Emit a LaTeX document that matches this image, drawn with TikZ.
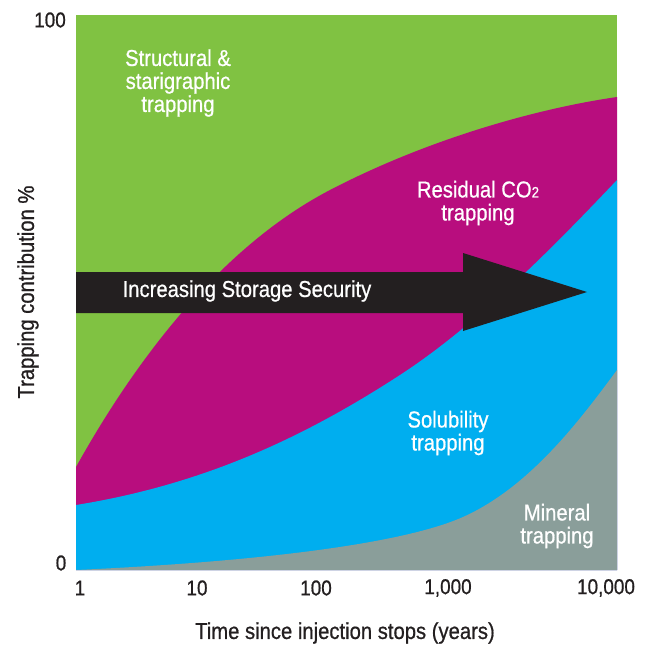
\documentclass[tikz,border=0pt]{standalone}
\usepackage{fontspec}
\setmainfont{Liberation Sans}[FakeStretch=0.88, FakeBold=0.7]
\definecolor{structgreen}{HTML}{80C242}
\definecolor{residmagenta}{HTML}{B80D7E}
\definecolor{solblue}{HTML}{00AEEF}
\definecolor{mingray}{HTML}{8A9E9A}
\definecolor{darkink}{HTML}{231F20}
\tikzset{
  zonelabel/.style={text=white, align=center, inner sep=0pt, font=\fontsize{23}{23}\selectfont},
  axislabel/.style={text=darkink, inner sep=0pt, font=\fontsize{23}{23}\selectfont},
  ticklabel/.style={text=darkink, inner sep=0pt, font=\fontsize{21.5}{21.5}\selectfont}
}

\begin{document}
\begin{tikzpicture}[x=1pt, y=-1pt]
        \useasboundingbox (0, 0) rectangle (656, 648);
        \fill[structgreen] (76, 15) rectangle (617, 570);
        \fill[residmagenta] (76, 570) -- (76, 467) .. controls (130, 370) and (215, 250) .. (330, 190)
            .. controls (430, 138) and (540, 108) .. (617, 97) -- (617, 570) -- cycle;
        \fill[solblue] (76, 570) -- (76, 505) .. controls (200, 485) and (300, 440) .. (400, 375)
            .. controls (480, 323) and (560, 240) .. (617, 180) -- (617, 570) -- cycle;
        \fill[mingray] (76, 570) .. controls (250, 562) and (400, 545) .. (463, 517)
            .. controls (530, 487) and (580, 420) .. (617, 370) -- (617, 570) -- cycle;
        \fill[darkink] (76, 272) -- (463, 272) -- (463, 253) -- (587, 292) -- (463, 331)
            -- (463, 313) -- (76, 313) -- cycle;
        \node[zonelabel] (structural) at (178, 83) {Structural \&\\starigraphic\\trapping};
        \node[zonelabel] (residual) at (478, 203) {Residual CO{\fontsize{15}{15}\selectfont 2}\\trapping};
        \node[zonelabel] (security) at (247, 291) {Increasing Storage Security};
        \node[zonelabel] (solubility) at (448, 433) {Solubility\\trapping};
        \node[zonelabel] (mineral) at (557, 526) {Mineral\\trapping};
        \node[ticklabel] (ymax) at (50, 20) {100};
        \node[ticklabel] (ymin) at (61, 563) {0};
        \node[ticklabel] (x1) at (80, 588) {1};
        \node[ticklabel] (x10) at (197, 588) {10};
        \node[ticklabel] (x100) at (316, 588) {100};
        \node[ticklabel] (x1000) at (448, 588) {1,000};
        \node[ticklabel] (x10000) at (606, 588) {10,000};
        \node[axislabel] (xtitle) at (345, 633) {Time since injection stops (years)};
        \node[axislabel, rotate=90] (ytitle) at (28, 292) {Trapping contribution \%};
    \end{tikzpicture}
\end{document}
